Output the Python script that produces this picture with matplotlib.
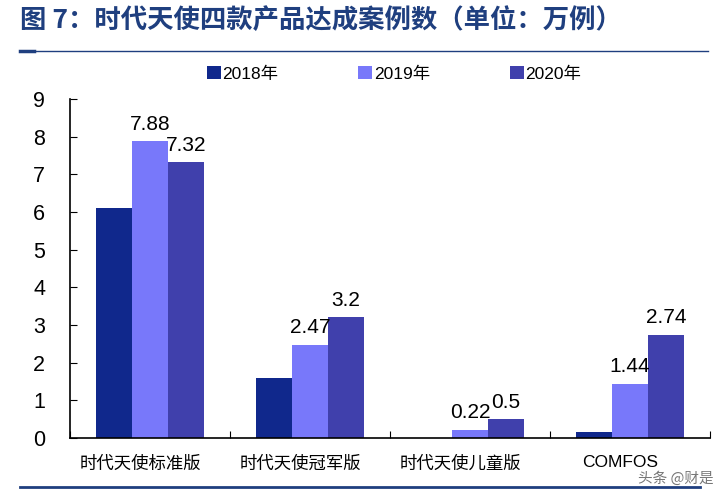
import matplotlib.pyplot as plt
import numpy as np

plt.rcParams['font.family'] = ['Liberation Sans', 'Noto Sans CJK SC', 'DejaVu Sans']

categories = ['时代天使标准版', '时代天使冠军版', '时代天使儿童版', 'COMFOS']
years = ['2018年', '2019年', '2020年']
v2018 = [6.1, 1.58, 0, 0.15]
v2019 = [7.88, 2.47, 0.22, 1.44]
v2020 = [7.32, 3.2, 0.5, 2.74]
colors = ['#10288C', '#7878FA', '#4040AC']

fig = plt.figure(figsize=(7.23, 4.93), dpi=100)
ax = fig.add_axes([70/723, 55/493, 640/723, 339/493])

x = np.arange(len(categories))
w = 0.225
series = [v2018, v2019, v2020]
for i, vals in enumerate(series):
    bars = ax.bar(x + (i - 1) * w, vals, w, color=colors[i], label=years[i])
    if i > 0:
        for b, v in zip(bars, vals):
            ax.text(b.get_x() + b.get_width() / 2, v + 0.2, f'{v:g}',
                    ha='center', va='bottom', fontsize=15)

ax.set_xlim(-0.5, 3.5)
ax.set_ylim(0, 9)
ax.set_yticks(range(10))
ax.tick_params(axis='y', direction='in', labelsize=15.5, length=5, pad=18)
ax.set_xticks(np.arange(-0.5, 4, 1))
ax.set_xticklabels([])
ax.tick_params(axis='x', direction='in', length=5)
for c, lab in zip(x, categories):
    ax.text(c - 0.06, -0.45, lab, ha='center', va='top', fontsize=12.5,
            family=['Noto Sans CJK SC'] if lab != 'COMFOS' else ['Liberation Sans'],
            transform=ax.transData)
for s in ['top', 'right']:
    ax.spines[s].set_visible(False)
ax.spines['left'].set_linewidth(1.2)
ax.spines['bottom'].set_linewidth(1.2)

leg = fig.legend(loc='center', bbox_to_anchor=(0.545, 0.85), ncol=3, frameon=False,
                 fontsize=12.5, handlelength=0.8, handleheight=0.8, handletextpad=0.1,
                 columnspacing=4.6)

fig.text(20/723, 1 - 20/493, '图 7：时代天使四款产品达成案例数（单位：万例）',
         fontsize=19, fontweight='bold', color='#1F3F7F', va='center',
         family=['Noto Sans CJK SC'])
fig.add_artist(plt.Line2D([20/723, 708/723], [1 - 51/493, 1 - 51/493], color='#1F3F7F', lw=1))
fig.add_artist(plt.Line2D([20/723, 34/723], [1 - 51/493, 1 - 51/493], color='#1F3F7F', lw=2.5))
fig.add_artist(plt.Line2D([20/723, 700/723], [1 - 487/493, 1 - 487/493], color='#1F3F7F', lw=2))

fig.text(714/723, 1 - 479/493, '头条 @财是', fontsize=10.5, color='#555555', alpha=0.8,
         ha='right', va='center', family=['Noto Sans CJK SC'])

plt.savefig('out.png', dpi=100)
